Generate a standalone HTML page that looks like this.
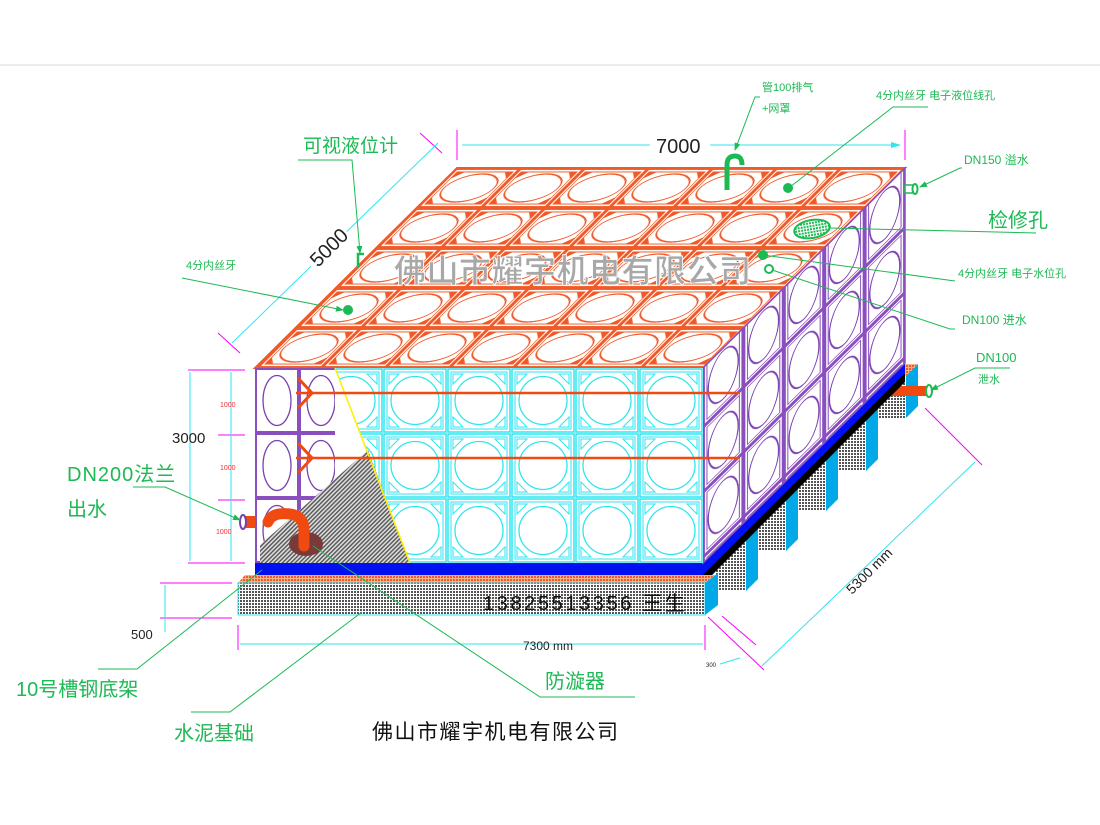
<!DOCTYPE html>
<html><head><meta charset="utf-8"><style>
html,body{margin:0;padding:0;background:#fff;}
svg{display:block;}
text{font-family:"Liberation Sans","Noto Sans CJK SC",sans-serif;}
</style></head><body>
<svg width="1100" height="825" viewBox="0 0 1100 825" xmlns="http://www.w3.org/2000/svg">
<defs>
  <pattern id="topP" patternUnits="userSpaceOnUse" x="49" y="8" width="64" height="40" patternTransform="skewX(-45)">
    <rect width="64" height="40" fill="#fff"/>
    <rect x="1" y="1" width="62" height="38" fill="none" stroke="#f05a28" stroke-width="2"/>
    <rect x="4" y="4" width="56" height="32" fill="none" stroke="#f05a28" stroke-width="1"/>
    <ellipse cx="32" cy="20" rx="25" ry="14" fill="#fff" stroke="#f05a28" stroke-width="1.3"/>
    <path d="M4 4 L12 4 L4 11Z M60 4 L52 4 L60 11Z M4 36 L12 36 L4 29Z M60 36 L52 36 L60 29Z" fill="#f05a28"/>
  </pattern>
  <pattern id="frontP" patternUnits="userSpaceOnUse" x="319" y="368" width="64" height="65">
    <rect width="64" height="65" fill="#fff"/>
    <rect x="1" y="1" width="62" height="63" fill="none" stroke="#2ee6f0" stroke-width="1.5"/>
    <rect x="4" y="4" width="56" height="57" fill="none" stroke="#2ee6f0" stroke-width="1"/>
    <circle cx="32" cy="32.5" r="24" fill="#fff" stroke="#2ee6f0" stroke-width="1.3"/>
    <path d="M6 6 L16 6 L6 16Z M58 6 L48 6 L58 16Z M6 59 L16 59 L6 49Z M58 59 L48 59 L58 49Z" fill="none" stroke="#2ee6f0"/>
  </pattern>
  <pattern id="sideP" patternUnits="userSpaceOnUse" x="703" y="18" width="40.4" height="65" patternTransform="skewY(-44.7)">
    <rect width="40.4" height="65" fill="#fff"/>
    <rect x="1" y="1" width="38.4" height="63" fill="none" stroke="#8a4fbf" stroke-width="2"/>
    <rect x="4" y="4" width="32.4" height="57" fill="none" stroke="#8a4fbf" stroke-width="1"/>
    <ellipse cx="20.2" cy="32.5" rx="15" ry="24" fill="#fff" stroke="#7a3fb0" stroke-width="1.3"/>
  </pattern>
  <pattern id="leftP" patternUnits="userSpaceOnUse" x="255" y="368" width="44" height="65">
    <rect width="44" height="65" fill="#fff"/>
    <rect x="1" y="1" width="42" height="63" fill="none" stroke="#8a4fbf" stroke-width="2"/>
    <ellipse cx="22" cy="32.5" rx="14" ry="25" fill="none" stroke="#7a3fb0" stroke-width="1.3"/>
  </pattern>
  <pattern id="mesh" patternUnits="userSpaceOnUse" width="3" height="3">
    <rect width="3" height="3" fill="#fff"/>
    <rect width="2" height="2" fill="#555"/>
  </pattern>
  <pattern id="hatch" patternUnits="userSpaceOnUse" width="3" height="3" patternTransform="rotate(45)">
    <rect width="3" height="3" fill="#ddd"/>
    <rect width="1.4" height="3" fill="#555"/>
  </pattern>
  <pattern id="omesh" patternUnits="userSpaceOnUse" width="3" height="3">
    <rect width="3" height="3" fill="#f7b08a"/>
    <rect width="2" height="2" fill="#f05a28"/>
  </pattern>
  <pattern id="gmesh" patternUnits="userSpaceOnUse" width="3" height="3">
    <rect width="3" height="3" fill="#fff"/>
    <rect width="2" height="2" fill="#1db954"/>
  </pattern>
  <marker id="ar" markerWidth="8" markerHeight="8" refX="7" refY="4" orient="auto"><path d="M0 1 L8 4 L0 7Z" fill="#1db954"/></marker>
  <marker id="ca" markerWidth="10" markerHeight="8" refX="9" refY="4" orient="auto"><path d="M0 1 L10 4 L0 7Z" fill="#2ee6f0"/></marker>
</defs>

<line x1="0" y1="65" x2="1100" y2="65" stroke="#e6e6e6" stroke-width="1.5"/>

<!-- feet blocks -->
<g>
  <g transform="translate(876,368)"><rect x="0" y="8" width="30" height="42" fill="url(#mesh)"/><polygon points="30,8 42,-4 42,38 30,50" fill="#00a8e8"/><polygon points="0,8 12,-4 42,-4 30,8" fill="url(#omesh)"/></g>
  <g transform="translate(836,408)"><rect x="0" y="8" width="30" height="55" fill="url(#mesh)"/><polygon points="30,8 42,-4 42,51 30,63" fill="#00a8e8"/><polygon points="0,8 12,-4 42,-4 30,8" fill="url(#omesh)"/></g>
  <g transform="translate(796,448)"><rect x="0" y="8" width="30" height="55" fill="url(#mesh)"/><polygon points="30,8 42,-4 42,51 30,63" fill="#00a8e8"/><polygon points="0,8 12,-4 42,-4 30,8" fill="url(#omesh)"/></g>
  <g transform="translate(756,488)"><rect x="0" y="8" width="30" height="55" fill="url(#mesh)"/><polygon points="30,8 42,-4 42,51 30,63" fill="#00a8e8"/><polygon points="0,8 12,-4 42,-4 30,8" fill="url(#omesh)"/></g>
  <g transform="translate(716,528)"><rect x="0" y="8" width="30" height="55" fill="url(#mesh)"/><polygon points="30,8 42,-4 42,51 30,63" fill="#00a8e8"/><polygon points="0,8 12,-4 42,-4 30,8" fill="url(#omesh)"/></g>
</g>
<rect x="883" y="386" width="45" height="10" fill="#f04a10"/>
<ellipse cx="929" cy="391" rx="3" ry="6" fill="#fff" stroke="#1db954" stroke-width="2"/>

<!-- base -->
<polygon points="245,575 715,575 705,583 238,583" fill="url(#omesh)"/>
<rect x="238" y="583" width="467" height="32" fill="url(#mesh)" stroke="#2ee6f0"/>
<polygon points="705,583 718,573 718,605 705,615" fill="#00a8e8"/>
<text x="483" y="610" font-size="20" fill="#111" letter-spacing="2.6">13825513356 王生</text>

<!-- blue channel -->
<polygon points="255,563 703,563 905,361 905,373 712,575 255,575" fill="#0010f0"/>
<polygon points="703,575 712,575 905,382 905,373" fill="#000"/>

<!-- top face -->
<polygon points="457,168 905,168 703,368 255,368" fill="url(#topP)" stroke="#f05a28" stroke-width="2"/>
<!-- right face -->
<polygon points="703,368 905,168 905,363 703,563" fill="url(#sideP)" stroke="#8a4fbf" stroke-width="1.5"/>
<!-- front face -->
<rect x="319" y="368" width="384" height="195" fill="url(#frontP)"/>
<rect x="255" y="368" width="44" height="195" fill="url(#leftP)"/>
<polygon points="299,368 335,368 410,563 299,563" fill="#fff"/>
<rect x="299" y="368" width="36" height="195" fill="url(#leftP)"/>
<polygon points="335,368 410,563 345,563" fill="#fff"/>
<polygon points="368,450 410,563 260,563 260,545" fill="url(#hatch)"/>
<line x1="335" y1="368" x2="410" y2="563" stroke="#ffee00" stroke-width="1.5"/>
<line x1="296" y1="393" x2="740" y2="393" stroke="#f04a10" stroke-width="2.5"/>
<line x1="296" y1="458" x2="740" y2="458" stroke="#f04a10" stroke-width="2.5"/>
<path d="M298 378 L312 393 L298 408 M298 443 L312 458 L298 473" fill="none" stroke="#f04a10" stroke-width="3"/>
<ellipse cx="306" cy="544" rx="17" ry="12" fill="#7a3a3a"/>
<path d="M268 522 Q272 512 290 514 Q304 516 304 530 L304 546" fill="none" stroke="#f04a10" stroke-width="11" stroke-linecap="round"/>
<rect x="243" y="516" width="12" height="12" fill="#f04a10"/>
<ellipse cx="243" cy="522" rx="3" ry="7" fill="#fff" stroke="#7a3fb0" stroke-width="2"/>
<rect x="905" y="185" width="10" height="8" fill="#fff" stroke="#1db954" stroke-width="1.5"/>
<ellipse cx="915" cy="189" rx="2.5" ry="5" fill="#fff" stroke="#1db954" stroke-width="2"/>

<!-- top fittings -->
<path d="M727 190 L727 165 Q727 156 735 156 Q742 156 742 165" fill="none" stroke="#1db954" stroke-width="5"/>
<circle cx="788" cy="188" r="5" fill="#1db954"/>
<ellipse cx="812" cy="229" rx="18" ry="9" fill="url(#gmesh)" stroke="#1db954" stroke-width="2" transform="rotate(-10 812 229)"/>
<circle cx="763" cy="255" r="5" fill="#1db954"/>
<circle cx="769" cy="269" r="4" fill="#fff" stroke="#1db954" stroke-width="2"/>
<circle cx="348" cy="310" r="5" fill="#1db954"/>
<path d="M358 268 L358 254 L364 254" fill="none" stroke="#1db954" stroke-width="2.5"/>

<!-- watermark -->
<text x="394" y="282" font-size="32" font-weight="bold" fill="#a8a8a8" stroke="#fff" stroke-width="0.8" letter-spacing="0.5">佛山市耀宇机电有限公司</text>

<!-- dimensions -->
<line x1="457" y1="130" x2="457" y2="160" stroke="#ff00ff"/>
<line x1="905" y1="130" x2="905" y2="160" stroke="#ff00ff"/>
<line x1="462" y1="145" x2="900" y2="145" stroke="#2ee6f0" marker-end="url(#ca)"/>
<rect x="650" y="133" width="60" height="22" fill="#fff"/>
<text x="656" y="153" font-size="20" fill="#222">7000</text>
<line x1="420" y1="133" x2="442" y2="153" stroke="#ff00ff"/>
<line x1="218" y1="333" x2="240" y2="353" stroke="#ff00ff"/>
<line x1="438" y1="143" x2="232" y2="343" stroke="#2ee6f0"/>
<rect x="300" y="225" width="50" height="40" fill="#fff" transform="rotate(-45 325 245)"/>
<text x="0" y="0" font-size="20" fill="#222" transform="translate(318,268) rotate(-45)">5000</text>

<g stroke="#ff00ff"><line x1="188" y1="370" x2="245" y2="370"/><line x1="188" y1="563" x2="245" y2="563"/><line x1="218" y1="435" x2="245" y2="435"/><line x1="218" y1="500" x2="245" y2="500"/></g>
<line x1="190" y1="372" x2="190" y2="561" stroke="#2ee6f0"/>
<line x1="231" y1="372" x2="231" y2="561" stroke="#2ee6f0"/>
<text x="172" y="443" font-size="15" fill="#222">3000</text>
<text x="220" y="407" font-size="7" fill="#e33">1000</text>
<text x="220" y="470" font-size="7" fill="#e33">1000</text>
<text x="216" y="534" font-size="7" fill="#e33">1000</text>

<g stroke="#ff00ff"><line x1="160" y1="583" x2="232" y2="583"/><line x1="160" y1="618" x2="232" y2="618"/><line x1="238" y1="625" x2="238" y2="650"/><line x1="705" y1="625" x2="705" y2="650"/></g>
<line x1="165" y1="585" x2="165" y2="632" stroke="#2ee6f0"/>
<text x="131" y="639" font-size="13" fill="#222">500</text>
<line x1="240" y1="644" x2="703" y2="644" stroke="#2ee6f0"/>
<text x="523" y="650" font-size="12" fill="#222">7300 mm</text>
<g stroke="#ff00ff"><line x1="708" y1="617" x2="764" y2="670"/><line x1="722" y1="616" x2="756" y2="645"/><line x1="925" y1="408" x2="982" y2="465"/></g>
<line x1="762" y1="666" x2="975" y2="462" stroke="#2ee6f0"/>
<text x="0" y="0" font-size="14" fill="#222" transform="translate(852,595) rotate(-45)">5300 mm</text>
<text x="706" y="667" font-size="6" fill="#222">300</text>
<line x1="720" y1="664" x2="740" y2="658" stroke="#2ee6f0"/>

<!-- labels -->
<g fill="#1db954">
  <text x="303" y="152" font-size="19">可视液位计</text>
  <text x="186" y="269" font-size="11">4分内丝牙</text>
  <text x="762" y="91" font-size="11">管100排气</text>
  <text x="762" y="112" font-size="11">+网罩</text>
  <text x="876" y="99" font-size="11">4分内丝牙 电子液位线孔</text>
  <text x="964" y="164" font-size="12">DN150 溢水</text>
  <text x="988" y="227" font-size="20">检修孔</text>
  <text x="958" y="277" font-size="11">4分内丝牙 电子水位孔</text>
  <text x="962" y="324" font-size="12">DN100 进水</text>
  <text x="976" y="362" font-size="13">DN100</text>
  <text x="978" y="383" font-size="11">泄水</text>
  <text x="67" y="481" font-size="20" letter-spacing="1">DN200法兰</text>
  <text x="67" y="516" font-size="20">出水</text>
  <text x="16" y="696" font-size="20">10号槽钢底架</text>
  <text x="174" y="740" font-size="20">水泥基础</text>
  <text x="545" y="688" font-size="20">防漩器</text>
</g>
<g stroke="#1db954" fill="none" stroke-width="1">
  <polyline points="298,160 352,160 360,253" marker-end="url(#ar)"/>
  <polyline points="182,278 343,310" marker-end="url(#ar)"/>
  <polyline points="760,97 755,97 735,150" marker-end="url(#ar)"/>
  <polyline points="928,107 893,107 790,187"/>
  <polyline points="962,168 960,168 920,187" marker-end="url(#ar)"/>
  <polyline points="1036,233 830,228"/>
  <polyline points="955,281 763,255"/>
  <polyline points="955,329 950,329 772,270"/>
  <polyline points="1010,368 975,368 931,390" marker-end="url(#ar)"/>
  <polyline points="133,487 165,487 240,520" marker-end="url(#ar)"/>
  <polyline points="98,669 137,669 262,570"/>
  <polyline points="191,712 230,712 362,612"/>
  <polyline points="635,697 540,697 313,546"/>
</g>

<text x="372" y="739" font-size="21" fill="#111" letter-spacing="1.5">佛山市耀宇机电有限公司</text>
</svg>
</body></html>
